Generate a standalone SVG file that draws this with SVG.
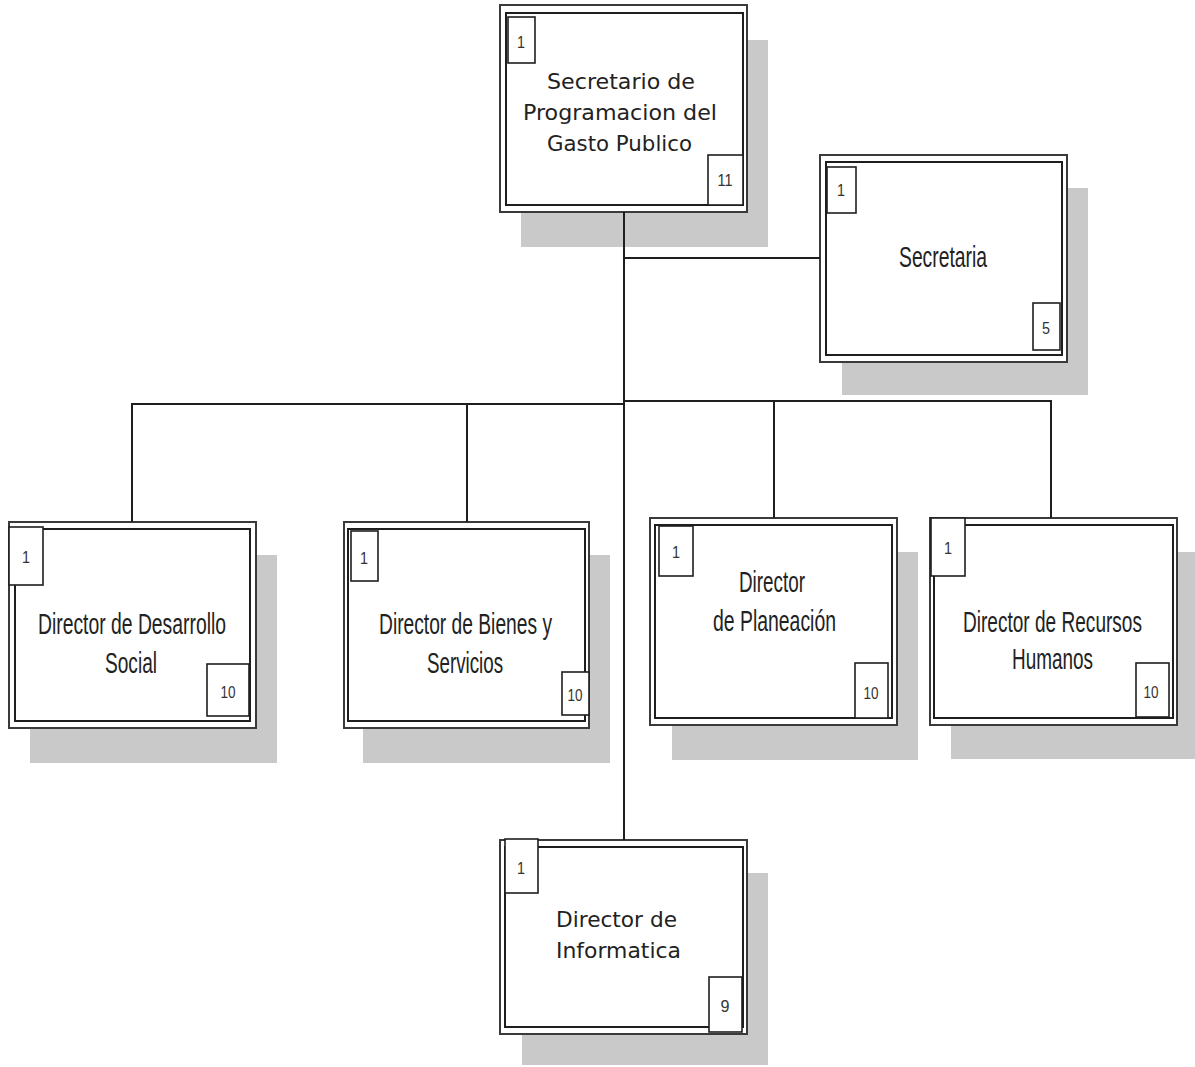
<svg xmlns="http://www.w3.org/2000/svg" width="1195" height="1067" viewBox="0 0 1195 1067">
  <style>
    .shadow { fill: #c9c9c9; }
    .outer { fill: #ffffff; stroke: #3a3a3a; stroke-width: 2; }
    .inner { fill: none; stroke: #1e1e1e; stroke-width: 2; }
    .tag { fill: #ffffff; stroke: #1e1e1e; stroke-width: 1.6; }
    .num { font-family: "Liberation Sans", Arial, sans-serif; font-size: 17px; fill: #333; text-anchor: middle; }
    .narrow { font-family: "Liberation Sans", Arial, sans-serif; font-size: 23px; fill: #222; }
    .wide { font-family: "DejaVu Sans", Verdana, sans-serif; font-size: 21px; fill: #222; }
    .link { fill: none; stroke: #1e1e1e; stroke-width: 2; }
  </style>
  <rect width="1195" height="1067" fill="#ffffff"/>

  <!-- Secretario de Programacion del Gasto Publico -->
  <g id="secretario">
    <rect class="shadow" x="521" y="40" width="247" height="207"/>
    <rect class="outer" x="500" y="5" width="247" height="207"/>
    <rect class="inner" x="506" y="13" width="237" height="192"/>
    <rect class="tag" x="508" y="17" width="27" height="46"/>
    <rect class="tag" x="708" y="155" width="35" height="50"/>
    <text class="num" x="521" y="48" textLength="8" lengthAdjust="spacingAndGlyphs">1</text>
    <text class="num" x="725" y="186" textLength="15" lengthAdjust="spacingAndGlyphs">11</text>
    <text class="wide" x="547" y="89" textLength="148" lengthAdjust="spacingAndGlyphs">Secretario de</text>
    <text class="wide" x="523" y="120" textLength="194" lengthAdjust="spacingAndGlyphs">Programacion del</text>
    <text class="wide" x="547" y="151" textLength="145" lengthAdjust="spacingAndGlyphs">Gasto Publico</text>
  </g>

  <!-- Secretaria -->
  <g id="secretaria">
    <rect class="shadow" x="842" y="188" width="246" height="207"/>
    <rect class="outer" x="820" y="155" width="247" height="207"/>
    <rect class="inner" x="826" y="162" width="236" height="193"/>
    <rect class="tag" x="827" y="167" width="29" height="46"/>
    <rect class="tag" x="1033" y="303" width="27" height="47"/>
    <text class="num" x="841" y="196" textLength="8" lengthAdjust="spacingAndGlyphs">1</text>
    <text class="num" x="1046" y="334" textLength="8" lengthAdjust="spacingAndGlyphs">5</text>
    <text class="narrow" transform="translate(899 267) scale(1 1.3)" textLength="88" lengthAdjust="spacingAndGlyphs">Secretaria</text>
  </g>

  <!-- Director de Desarrollo Social -->
  <g id="desarrollo">
    <rect class="shadow" x="30" y="555" width="247" height="208"/>
    <rect class="outer" x="9" y="522" width="247" height="206"/>
    <rect class="inner" x="15" y="529" width="235" height="192"/>
    <rect class="tag" x="9" y="527" width="34" height="58"/>
    <rect class="tag" x="207" y="664" width="42" height="52"/>
    <text class="num" x="26" y="563" textLength="8" lengthAdjust="spacingAndGlyphs">1</text>
    <text class="num" x="228" y="698" textLength="15" lengthAdjust="spacingAndGlyphs">10</text>
    <text class="narrow" transform="translate(38 634) scale(1 1.3)" textLength="188" lengthAdjust="spacingAndGlyphs">Director de Desarrollo</text>
    <text class="narrow" transform="translate(105 673) scale(1 1.3)" textLength="52" lengthAdjust="spacingAndGlyphs">Social</text>
  </g>

  <!-- Director de Bienes y Servicios -->
  <g id="bienes">
    <rect class="shadow" x="363" y="555" width="247" height="208"/>
    <rect class="outer" x="344" y="522" width="245" height="206"/>
    <rect class="inner" x="348" y="529" width="237" height="192"/>
    <rect class="tag" x="351" y="531" width="27" height="50"/>
    <rect class="tag" x="562" y="672" width="27" height="43"/>
    <text class="num" x="364" y="564" textLength="8" lengthAdjust="spacingAndGlyphs">1</text>
    <text class="num" x="575" y="701" textLength="15" lengthAdjust="spacingAndGlyphs">10</text>
    <text class="narrow" transform="translate(379 634) scale(1 1.3)" textLength="173" lengthAdjust="spacingAndGlyphs">Director de Bienes y</text>
    <text class="narrow" transform="translate(427 673) scale(1 1.3)" textLength="76" lengthAdjust="spacingAndGlyphs">Servicios</text>
  </g>

  <!-- Director de Planeación -->
  <g id="planeacion">
    <rect class="shadow" x="672" y="552" width="246" height="208"/>
    <rect class="outer" x="650" y="518" width="247" height="207"/>
    <rect class="inner" x="655" y="525" width="237" height="193"/>
    <rect class="tag" x="659" y="526" width="34" height="50"/>
    <rect class="tag" x="855" y="663" width="33" height="55"/>
    <text class="num" x="676" y="558" textLength="8" lengthAdjust="spacingAndGlyphs">1</text>
    <text class="num" x="871" y="699" textLength="15" lengthAdjust="spacingAndGlyphs">10</text>
    <text class="narrow" transform="translate(739 592) scale(1 1.3)" textLength="66" lengthAdjust="spacingAndGlyphs">Director</text>
    <text class="narrow" transform="translate(713 631) scale(1 1.3)" textLength="123" lengthAdjust="spacingAndGlyphs">de Planeación</text>
  </g>

  <!-- Director de Recursos Humanos -->
  <g id="recursos">
    <rect class="shadow" x="951" y="552" width="244" height="207"/>
    <rect class="outer" x="930" y="518" width="247" height="207"/>
    <rect class="inner" x="934" y="525" width="239" height="193"/>
    <rect class="tag" x="931" y="518" width="34" height="58"/>
    <rect class="tag" x="1136" y="663" width="33" height="54"/>
    <text class="num" x="948" y="554" textLength="8" lengthAdjust="spacingAndGlyphs">1</text>
    <text class="num" x="1151" y="698" textLength="15" lengthAdjust="spacingAndGlyphs">10</text>
    <text class="narrow" transform="translate(963 632) scale(1 1.3)" textLength="179" lengthAdjust="spacingAndGlyphs">Director de Recursos</text>
    <text class="narrow" transform="translate(1012 669) scale(1 1.3)" textLength="81" lengthAdjust="spacingAndGlyphs">Humanos</text>
  </g>

  <!-- Director de Informatica -->
  <g id="informatica">
    <rect class="shadow" x="522" y="873" width="246" height="192"/>
    <rect class="outer" x="500" y="840" width="247" height="194"/>
    <rect class="inner" x="505" y="847" width="238" height="180"/>
    <rect class="tag" x="505" y="839" width="33" height="54"/>
    <rect class="tag" x="709" y="977" width="33" height="55"/>
    <text class="num" x="521" y="874" textLength="8" lengthAdjust="spacingAndGlyphs">1</text>
    <text class="num" x="725" y="1012" textLength="9" lengthAdjust="spacingAndGlyphs">9</text>
    <text class="wide" x="556" y="927" textLength="121" lengthAdjust="spacingAndGlyphs">Director de</text>
    <text class="wide" x="556" y="958" textLength="125" lengthAdjust="spacingAndGlyphs">Informatica</text>
  </g>

  <!-- Reporting lines -->
  <g id="connectors">
    <path class="link" stroke-width="2.6" d="M624 212 V404"/>
    <path class="link" d="M624 258 H820"/>
    <path class="link" d="M132 522 V404 H624"/>
    <path class="link" d="M467 404 V522"/>
    <path class="link" d="M624 401 H1051 V518"/>
    <path class="link" d="M774 401 V518"/>
    <path class="link" stroke="#444" stroke-width="1.6" d="M624 404 V840"/>
  </g>
</svg>
